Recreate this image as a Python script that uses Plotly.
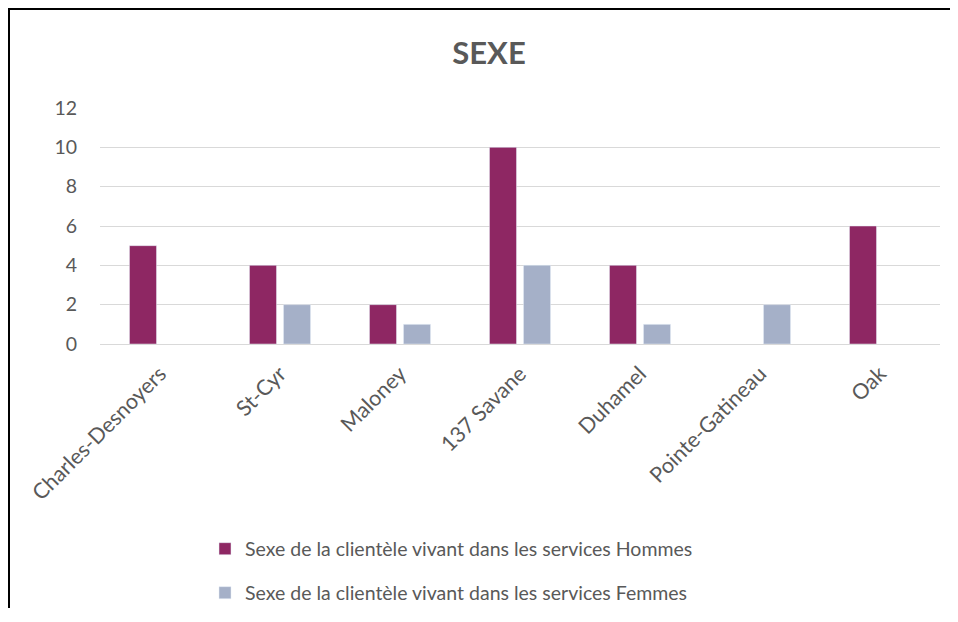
import plotly.graph_objects as go

categories = ["Charles-Desnoyers", "St-Cyr", "Maloney", "137 Savane", "Duhamel", "Pointe-Gatineau", "Oak"]
hommes = [5, 4, 2, 10, 4, None, 6]
femmes = [None, 2, 1, 4, 1, 2, None]
name_h = "Sexe de la clientèle vivant dans les services Hommes"
name_f = "Sexe de la clientèle vivant dans les services Femmes"
y_ticks = [0, 2, 4, 6, 8, 10, 12]

FONT = "Lato, Open Sans, sans-serif"
TXT = "#595959"

fig = go.Figure()
fig.add_trace(go.Bar(x=categories, y=hommes, name=name_h, marker_color="#8E2763", legend="legend"))
fig.add_trace(go.Bar(x=categories, y=femmes, name=name_f, marker_color="#A5B0C8", legend="legend2"))

# page has an 8px body margin; keep the figure inside the window to avoid scrollbars
O = 8
W, H = 958 - 2 * O, 622 - 2 * O - 6
PL, PR, PT, PB = 100, 940, 108, 344  # plot area in page pixels
L, T = PL - O, PT - O
R = W - (PR - O)
B = H - (PB - O)
ph = H - T - B
pw = W - L - R

def ypaper(page_px):
    return (PB - page_px) / ph

def xpaper(page_px):
    return (page_px - PL) / pw

legend_common = dict(font=dict(family=FONT, size=19.5, color=TXT), bgcolor="rgba(0,0,0,0)",
                     xanchor="left", yanchor="middle", orientation="v")

fig.update_layout(
    width=W, height=H,
    margin=dict(l=L, r=R, t=T, b=B, autoexpand=False),
    paper_bgcolor="white", plot_bgcolor="white",
    barmode="group", bargap=0.433, bargroupgap=0.206,
    title=dict(text="<b>SEXE</b>", x=(489 - O) / W, xanchor="center",
               y=1 - (53 - O) / H, yanchor="middle",
               font=dict(family=FONT, size=31, color=TXT)),
    xaxis=dict(tickangle=-45, tickfont=dict(family=FONT, size=21.5, color=TXT),
               showgrid=False, showline=False, ticks="", ticklabelstandoff=12),
    yaxis=dict(range=[0, 12], tickvals=y_ticks, tickfont=dict(family=FONT, size=19.5, color=TXT),
               showgrid=True, gridcolor="#D9D9D9", gridwidth=1, zeroline=True, zerolinecolor="#D9D9D9",
               zerolinewidth=1, ticks="", ticklabelstandoff=22),
    legend=dict(x=xpaper(205), y=ypaper(549), **legend_common),
    legend2=dict(x=xpaper(205), y=ypaper(593), **legend_common),
    showlegend=True,
    shapes=[
        dict(type="line", xref="paper", yref="paper", x0=xpaper(8), x1=xpaper(O + W), y0=ypaper(9), y1=ypaper(9),
             line=dict(color="black", width=2)),
        dict(type="line", xref="paper", yref="paper", x0=xpaper(9), x1=xpaper(9), y0=ypaper(8), y1=ypaper(O + H),
             line=dict(color="black", width=2)),
    ],
)

fig.write_html("out.html")
